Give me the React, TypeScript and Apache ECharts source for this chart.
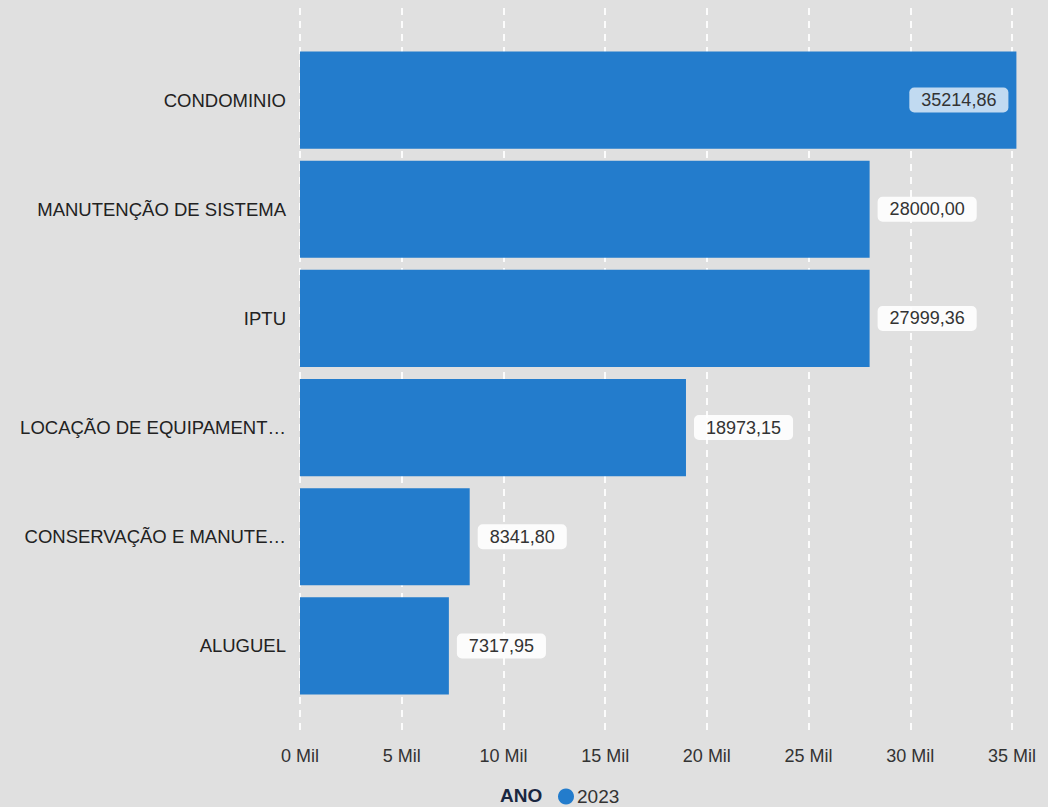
import React, { useEffect, useRef } from "react";
import * as echarts from "echarts";

const categories = [
  "CONDOMINIO",
  "MANUTENÇÃO DE SISTEMA",
  "IPTU",
  "LOCAÇÃO DE EQUIPAMENT…",
  "CONSERVAÇÃO E MANUTE…",
  "ALUGUEL",
];
const values = [35214.86, 28000.0, 27999.36, 18973.15, 8341.8, 7317.95];
const seriesName = "2023";
const legendTitle = "ANO";

export default function App() {
  const ref = useRef<HTMLDivElement>(null);
  useEffect(() => {
    document.body.style.margin = "0";
    const chart = echarts.init(ref.current!, undefined, { renderer: "svg" });
    const fmt = (v: number) => v.toFixed(2).replace(".", ",");
    const maxV = Math.max(...values);
    chart.setOption({
      animation: false,
      backgroundColor: "#e0e0e0",
      textStyle: { fontFamily: "Liberation Sans, Arial, sans-serif" },
      grid: [
        { left: 300, width: 716.4, top: 45.5, height: 655, containLabel: false },
        { left: 300, width: 712, top: 8, bottom: 72, containLabel: false },
      ],
      xAxis: [
        {
          gridIndex: 0,
          type: "value",
          min: 0,
          max: maxV,
          show: false,
        },
        {
          gridIndex: 1,
          type: "value",
          min: 0,
          max: 35000,
          interval: 5000,
          axisLine: { show: false },
          axisTick: { show: false },
          splitLine: {
            show: true,
            lineStyle: { color: "#ffffff", type: [7, 6], width: 2, opacity: 0.9 },
          },
          axisLabel: {
            margin: 12,
            fontSize: 18,
            color: "#333",
            formatter: (v: number) => `${v / 1000} Mil`,
          },
        },
      ],
      yAxis: [
        {
          gridIndex: 0,
          type: "category",
          data: categories,
          inverse: true,
          axisLine: { show: false },
          axisTick: { show: false },
          splitLine: { show: false },
          axisLabel: { margin: 14, fontSize: 18.5, color: "#222" },
        },
        {
          gridIndex: 1,
          type: "category",
          data: [""],
          show: false,
        },
      ],
      legend: {
        left: 553,
        top: 782,
        padding: 5,
        icon: "circle",
        itemWidth: 16,
        itemHeight: 16,
        itemGap: 4,
        textStyle: { fontSize: 19, lineHeight: 19, color: "#333", padding: [0, 0, 0, -2] },
        data: [seriesName],
      },
      graphic: [
        {
          type: "text",
          x: 500,
          y: 795,
          style: {
            text: legendTitle,
            font: "bold 19px Liberation Sans, Arial, sans-serif",
            fill: "#1a2740",
            textVerticalAlign: "middle",
          },
        },
      ],
      series: [
        {
          name: seriesName,
          type: "bar",
          xAxisIndex: 0,
          yAxisIndex: 0,
          barCategoryGap: "11%",
          itemStyle: { color: "#237ccc" },
          data: values.map((v, i) => ({
            value: v,
            label:
              i === 0
                ? {
                    position: "insideRight",
                    distance: 8,
                    backgroundColor: "rgba(255,255,255,0.72)",
                  }
                : undefined,
          })),
          label: {
            show: true,
            position: "right",
            distance: 8,
            fontSize: 18,
            color: "#333",
            backgroundColor: "rgba(255,255,255,0.9)",
            borderRadius: 5,
            padding: [4, 12, 3, 12],
            formatter: (p: any) => fmt(p.value),
          },
        },
      ],
    });
    return () => chart.dispose();
  }, []);
  return (
    <div
      ref={ref}
      style={{ position: "absolute", left: 0, top: 0, width: 1048, height: 807 }}
    />
  );
}
